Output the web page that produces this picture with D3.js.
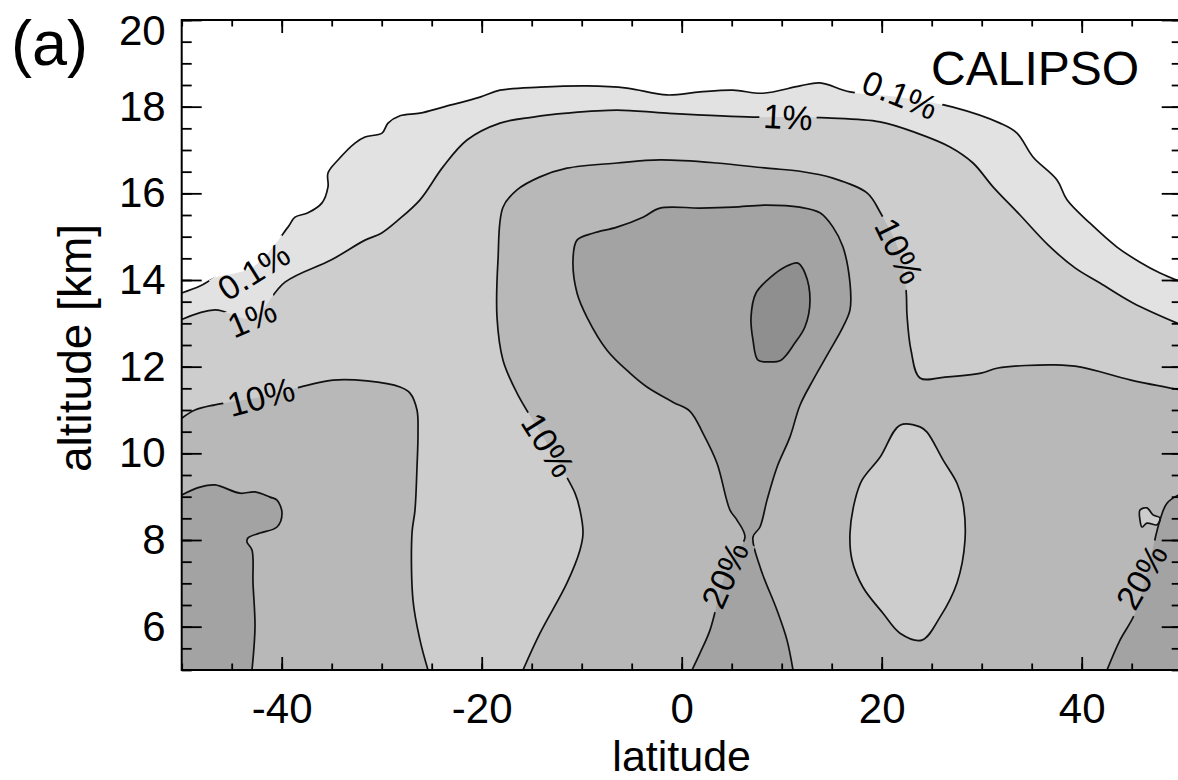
<!DOCTYPE html>
<html><head><meta charset="utf-8">
<script src="https://cdn.jsdelivr.net/npm/d3@7"></script>
<style>
body{margin:0;background:#fff;overflow:hidden}
svg{display:block}
text{font-family:"Liberation Sans",Arial,Helvetica,sans-serif;fill:#000}
</style>
</head><body>
<svg id="chart" width="1178" height="780"></svg>
<script>
// ---------------- data (latitude [deg], altitude [km]) ----------------
const xTickValues = [-40, -20, 0, 20, 40];
const yTickValues = [6, 8, 10, 12, 14, 16, 18, 20];
const contourLevels = ["0.1%", "1%", "10%", "20%", "30%"];

// 0.1% contour
const line01 = [[-50,13.70],[-48.17,13.86],[-46.67,14.05],[-42.9,14.30],[-39.37,15.22],[-38.67,15.45],[-37.37,15.55],[-35.97,15.78],[-35.37,16.15],[-35.37,16.47],[-34.37,16.77],[-32.67,17.16],[-31.67,17.30],[-29.97,17.39],[-29.37,17.62],[-28.17,17.79],[-26.17,17.85],[-23.87,17.99],[-20.17,18.22],[-18.17,18.38],[-14.17,18.45],[-9.47,18.48],[-5.47,18.43],[-1.47,18.27],[1.83,18.34],[5.13,18.38],[8.13,18.31],[11.83,18.48],[13.83,18.55],[16.83,18.34],[21.83,18.22],[27.13,17.99],[31.83,17.62],[33.53,17.39],[35.13,16.84],[37.53,16.31],[38.53,15.85],[40.83,15.31],[43.53,14.76],[45.83,14.41],[47.83,14.16],[50,13.95]];
// 1% contour
const line1 = [[-50,13.09],[-46.67,13.31],[-43.0,13.12],[-39.67,13.95],[-35.07,14.46],[-31.67,14.92],[-30.04,15.08],[-28.37,15.38],[-26.17,15.85],[-23.87,16.61],[-21.47,17.23],[-18.17,17.62],[-14.87,17.76],[-11.47,17.85],[-6.47,17.92],[-1.47,17.85],[7.13,17.76],[10.63,17.76],[14.53,17.74],[19.83,17.65],[23.53,17.39],[26.83,17.07],[29.13,16.70],[31.13,16.15],[33.83,15.50],[36.63,14.81],[39.33,14.28],[41.83,13.93],[45.13,13.47],[50,12.96]];
// 10% contour, western region
const line10W = [[-50,10.81],[-48.67,11.00],[-46.67,11.12],[-42.07,11.30],[-37.47,11.57],[-34.87,11.69],[-31.47,11.67],[-28.17,11.53],[-27.17,11.39],[-26.47,11.00],[-26.37,10.47],[-26.47,9.68],[-26.67,8.69],[-26.97,8.16],[-26.87,6.61],[-26.17,5.69],[-25.37,5]];
// 10% contour, central / eastern region
const line10E = [[-15.87,5],[-14.17,5.85],[-11.47,7.01],[-10.17,7.77],[-9.87,8.16],[-10.17,8.69],[-10.67,9.08],[-13.37,10.19],[-16.47,11.39],[-17.87,12.15],[-18.47,13.14],[-18.37,14.46],[-17.87,15.68],[-16.47,16.08],[-14.17,16.38],[-11.47,16.58],[-6.47,16.70],[-2.17,16.77],[3.53,16.70],[8.53,16.58],[11.83,16.51],[15.13,16.35],[18.53,16.01],[19.83,15.57],[21.73,14.67],[22.43,13.77],[22.53,13.19],[22.93,12.38],[23.83,11.74],[26.33,11.76],[29.93,11.85],[31.63,11.97],[37.33,12.04],[39.93,11.99],[44.93,11.69],[50,11.46]];
// 1-10% pockets inside the eastern 10% region
const line10Hole = [[21.83,10.65],[23.83,10.61],[24.53,10.49],[26.13,9.85],[27.53,9.31],[28.13,8.85],[28.33,8.00],[27.53,7.01],[25.83,6.22],[24.03,5.69],[21.83,5.85],[20.13,6.31],[18.13,6.91],[17.03,7.54],[16.83,8.16],[17.33,8.92],[18.03,9.38],[19.83,9.91]];
const line10Tiny = [[45.83,8.69],[46.53,8.74],[47.13,8.58],[47.83,8.51],[47.53,8.35],[46.53,8.39],[46.03,8.30],[45.83,8.46]];
// 20% contours
const line20W = [[-50,9.04],[-48.17,9.22],[-46.67,9.27],[-44.17,9.08],[-42.67,9.11],[-41.17,8.99],[-40.47,8.92],[-39.97,8.62],[-40.47,8.30],[-42.17,8.16],[-43.37,8.05],[-43.47,7.95],[-42.97,7.77],[-42.87,7.01],[-42.67,5.99],[-42.97,5]];
const line20C = [[1.03,5],[1.83,5.39],[2.83,5.92],[4.33,7.19],[5.33,7.64],[6.33,8.07],[5.53,8.46],[4.83,8.69],[3.53,9.77],[2.13,10.46],[0.83,10.97],[-0.87,11.18],[-3.47,11.53],[-5.17,11.85],[-7.47,12.38],[-9.47,13.14],[-10.47,13.70],[-10.87,14.46],[-10.47,14.92],[-8.87,15.08],[-6.47,15.22],[-3.87,15.45],[-2.17,15.66],[1.83,15.66],[5.13,15.68],[8.53,15.73],[11.83,15.68],[13.83,15.55],[15.13,15.22],[16.13,14.76],[16.83,13.93],[16.83,13.31],[16.13,12.92],[14.83,12.38],[13.13,11.69],[11.83,11.11],[10.83,10.38],[9.53,9.68],[8.53,8.92],[7.83,8.30],[7.13,8.07],[7.83,7.38],[9.53,6.38],[10.53,5.69],[11.13,5]];
const line20E = [[42.53,5],[43.83,5.69],[45.33,6.31],[46.83,7.54],[47.83,8.46],[48.53,8.85],[50,9.08]];
// 30% contour
const line30 = [[11.63,14.39],[12.33,14.16],[12.83,13.54],[12.33,12.92],[11.33,12.55],[9.93,12.15],[8.63,12.11],[7.63,12.15],[7.13,12.61],[6.93,13.14],[7.43,13.70],[8.93,14.07],[10.33,14.30]];

// contour labels: text, latitude, altitude, angle
const labelText = ["0.1%", "1%", "10%", "0.1%", "1%", "10%", "10%", "20%", "20%"];
const labelLat  = [21.83, 10.63, 21.73, -42.8, -42.97, -42.07, -13.37, 4.33, 46.0];
const labelAlt  = [18.27, 17.76, 14.67, 14.20, 13.12, 11.30, 10.19, 7.19, 7.15];
const labelAng  = [22, 3, 64, -32, -23, -15, 58, -66, -60];

// ---------------- drawing ----------------
const svg = d3.select("#chart");
const x = d3.scaleLinear().domain([-50, 50]).range([181.7, 1181.7]);
const y = d3.scaleLinear().domain([5, 20]).range([670, 20]);
const x0 = x(-50), x1 = x(50), y0 = y(20), y1 = y(5);

const fills = ["#e2e2e2", "#cdcdcd", "#b8b8b8", "#a3a3a3", "#8f8f8f"];

// region: contour points, closing corners along frame, fill level index
const regions = [
  {pts: line01, close: [[50,5],[-50,5]], lvl: 0},
  {pts: line1,  close: [[50,5],[-50,5]], lvl: 1},
  {pts: line10W, close: [[-50,5]], lvl: 2},
  {pts: line10E, close: [[50,5]], lvl: 2},
  {pts: line10Hole, closed: true, lvl: 1},
  {pts: line10Tiny, closed: true, lvl: 1},
  {pts: line20W, close: [[-50,5]], lvl: 3},
  {pts: line20C, close: [], lvl: 3},
  {pts: line20E, close: [[50,5]], lvl: 3},
  {pts: line30, closed: true, lvl: 4}
];

const openLine = d3.line().x(d => x(d[0])).y(d => y(d[1])).curve(d3.curveCatmullRom.alpha(0.5));
const closedLine = d3.line().x(d => x(d[0])).y(d => y(d[1])).curve(d3.curveCatmullRomClosed.alpha(0.5));

const defs = svg.append("defs");
defs.append("clipPath").attr("id", "plotClip")
  .append("rect").attr("x", x0).attr("y", y0).attr("width", x1 - x0).attr("height", y1 - y0);

const fillG = svg.append("g").attr("clip-path", "url(#plotClip)");
fillG.append("rect").attr("x", x0).attr("y", y0).attr("width", x1 - x0).attr("height", y1 - y0).attr("fill", "#fff");
regions.forEach(r => {
  let d;
  if (r.closed) d = closedLine(r.pts);
  else d = openLine(r.pts) + r.close.map(p => `L${x(p[0])},${y(p[1])}`).join("") + "Z";
  fillG.append("path").attr("d", d).attr("fill", fills[r.lvl]).attr("stroke", "none");
});

// labels (measure first to build gap mask)
const labels = labelText.map((t, i) => ({t, lat: labelLat[i], alt: labelAlt[i], a: labelAng[i]}));
const labG = svg.append("g");
const labNodes = labG.selectAll("text").data(labels).join("text")
  .attr("transform", d => `translate(${x(d.lat)},${y(d.alt)}) rotate(${d.a})`)
  .attr("text-anchor", "middle")
  .attr("dy", "0.35em")
  .style("font-size", "34px")
  .text(d => d.t);

const mask = defs.append("mask").attr("id", "gapMask").attr("maskUnits", "userSpaceOnUse")
  .attr("x", 0).attr("y", 0).attr("width", 1178).attr("height", 780);
mask.append("rect").attr("x", 0).attr("y", 0).attr("width", 1178).attr("height", 780).attr("fill", "#fff");
labNodes.each(function(d) {
  const w = this.getComputedTextLength() + 8;
  const h = 32;
  mask.append("rect")
    .attr("x", -w / 2).attr("y", -h / 2).attr("width", w).attr("height", h)
    .attr("transform", `translate(${x(d.lat)},${y(d.alt)}) rotate(${d.a})`)
    .attr("fill", "#000");
});

const lineG = svg.insert("g", () => labG.node())
  .attr("clip-path", "url(#plotClip)")
  .append("g").attr("mask", "url(#gapMask)");
regions.forEach(r => {
  const d = r.closed ? closedLine(r.pts) : openLine(r.pts);
  lineG.append("path").attr("d", d).attr("fill", "none")
    .attr("stroke", "#111").attr("stroke-width", 1.7).attr("stroke-linejoin", "round");
});

// ---------------- axes ----------------
function styleAxis(g) {
  g.select(".domain").remove();
  g.selectAll(".tick line").attr("stroke", "#000").attr("stroke-width", 1.8);
  g.selectAll(".tick text").style("font-size", "42px")
    .style("font-family", '"Liberation Sans", Arial, Helvetica, sans-serif').attr("fill", "#000");
}
const xMinor = d3.range(-50, 50.01, 5);
const yMinor = d3.range(5, 20.01, 0.5);

svg.append("g").attr("transform", `translate(0,${y1})`)
  .call(d3.axisBottom(x).tickValues(xMinor).tickSize(-6.5).tickFormat("")).call(styleAxis);
svg.append("g").attr("transform", `translate(0,${y1})`)
  .call(d3.axisBottom(x).tickValues(xTickValues).tickSize(-13).tickPadding(23).tickFormat(d => String(d))).call(styleAxis);
svg.append("g").attr("transform", `translate(0,${y0})`)
  .call(d3.axisTop(x).tickValues(xMinor).tickSize(-6.5).tickFormat("")).call(styleAxis);
svg.append("g").attr("transform", `translate(0,${y0})`)
  .call(d3.axisTop(x).tickValues(xTickValues).tickSize(-13).tickFormat("")).call(styleAxis);

svg.append("g").attr("transform", `translate(${x0},0)`)
  .call(d3.axisLeft(y).tickValues(yMinor).tickSize(-10).tickFormat("")).call(styleAxis);
const yAx = svg.append("g").attr("transform", `translate(${x0},0)`)
  .call(d3.axisLeft(y).tickValues(yTickValues).tickSize(-20).tickPadding(16).tickFormat(d => String(d))).call(styleAxis);
yAx.selectAll(".tick text").filter(d => d === 20).attr("transform", "translate(0,11)");
svg.append("g").attr("transform", `translate(${x1},0)`)
  .call(d3.axisRight(y).tickValues(yMinor).tickSize(-10).tickFormat("")).call(styleAxis);
svg.append("g").attr("transform", `translate(${x1},0)`)
  .call(d3.axisRight(y).tickValues(yTickValues).tickSize(-20).tickFormat("")).call(styleAxis);

svg.append("rect").attr("x", x0).attr("y", y0).attr("width", x1 - x0).attr("height", y1 - y0)
  .attr("fill", "none").attr("stroke", "#000").attr("stroke-width", 2);

// titles
svg.append("text").attr("x", (x0 + x1) / 2).attr("y", 770.5).attr("text-anchor", "middle")
  .style("font-size", "43px").text("latitude");
svg.append("text").attr("transform", "translate(91,348) rotate(-90)").attr("text-anchor", "middle")
  .style("font-size", "46px").text("altitude [km]");
svg.append("text").attr("x", 11).attr("y", 65).style("font-size", "63px").text("(a)");
svg.append("text").attr("x", 931).attr("y", 85).style("font-size", "48px").text("CALIPSO");
</script>
</body></html>
